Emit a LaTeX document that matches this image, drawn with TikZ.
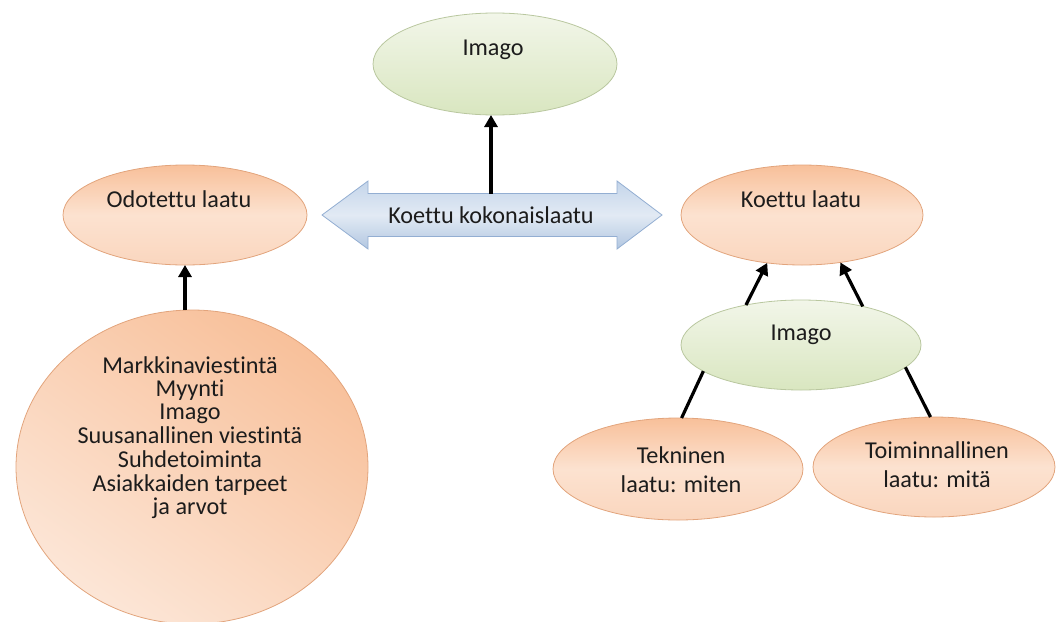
\documentclass[tikz,border=0pt]{standalone}
\usepackage{fontspec}
\setmainfont{Carlito}[Ligatures={NoCommon}]
\usetikzlibrary{arrows.meta,shapes.geometric}
\definecolor{peachtop}{HTML}{F8C09A}
\definecolor{peachmid}{HTML}{FCE2D0}
\definecolor{peachbot}{HTML}{FAD6BE}
\definecolor{peachlight}{HTML}{FCE6D7}
\definecolor{peachedge}{HTML}{E2A47C}
\definecolor{greentop}{HTML}{F2F6E9}
\definecolor{greenbot}{HTML}{D9E6C0}
\definecolor{greenedge}{HTML}{B9C79F}
\definecolor{bluetop}{HTML}{C4D5EA}
\definecolor{bluemid}{HTML}{E2EAF4}
\definecolor{bluebot}{HTML}{B2C7E1}
\definecolor{blueedge}{HTML}{93AED2}
\definecolor{textc}{HTML}{1C1C1C}
\begin{document}
\begin{tikzpicture}[x=1pt,y=-1pt,
  every node/.style={outer sep=0pt, inner sep=0pt},
  peach/.style={ellipse, draw=peachedge, line width=0.8pt, top color=peachtop, bottom color=peachbot, middle color=peachmid},
  greenell/.style={ellipse, draw=greenedge, line width=0.8pt, top color=greentop, bottom color=greenbot},
  lbl/.style={anchor=base, text=textc, font=\fontsize{24.2}{23.3}\selectfont},
  lbltwo/.style={anchor=base, text=textc, font=\fontsize{24.2}{29.5}\selectfont},
  arr/.style={line width=3.2pt, -{Triangle[length=12pt,width=13pt]}},
  conn/.style={line width=3.2pt}]
\useasboundingbox (0,0) rectangle (1056,621);

% shapes
\node[greenell, minimum width=244pt, minimum height=102pt] (topimg) at (495,64) {};
\node[peach, minimum width=244pt, minimum height=100pt] (odot) at (185,215) {};
\node[peach, minimum width=242pt, minimum height=100pt] (koet) at (802,215) {};
\node[greenell, minimum width=240pt, minimum height=90pt] (green) at (801,345) {};
\node[peach, minimum width=250pt, minimum height=102pt] (tek) at (678,469) {};
\node[peach, minimum width=242pt, minimum height=100pt] (toim) at (934,467) {};
\node[ellipse, draw=peachedge, line width=0.8pt, top color=peachtop, bottom color=peachlight, shading angle=-35,
      minimum width=352pt, minimum height=314pt] (circ) at (192,467) {};

% double arrow
\path[draw=blueedge, line width=0.8pt, top color=bluetop, bottom color=bluebot, middle color=bluemid]
  (322,215) -- (368,181) -- (368,193.5) -- (617,193.5) -- (617,181) -- (662,215)
  -- (617,249) -- (617,236.5) -- (368,236.5) -- (368,249) -- cycle;
\node[minimum width=249pt, minimum height=43pt] (kok) at (491,215) {};

% labels
\node[lbl] (topimgtxt) at (493,55) {Imago};
\node[lbl] (odottxt) at (179,207) {Odotettu laatu};
\node[lbl] (koettxt) at (801,207) {Koettu laatu};
\node[lbl] (greentxt) at (801,340) {Imago};
\node[lbl] (koktxt) at (491,223) {Koettu kokonaislaatu};
\node[lbltwo] (tektxt) at (681,463) {\begin{tabular}[t]{@{}c@{}}Tekninen\\laatu: miten\end{tabular}};
\node[lbltwo] (toimtxt) at (937,458) {\begin{tabular}[t]{@{}c@{}}Toiminnallinen\\laatu: mitä\end{tabular}};
\node[lbl] (circtxt) at (190,373) {\begin{tabular}[t]{@{}c@{}}Markkinaviestintä\\Myynti\\Imago\\Suusanallinen viestintä\\Suhdetoiminta\\Asiakkaiden tarpeet\\ja arvot\end{tabular}};

% connectors
\draw[arr] (circ.north -| odot.south) -- (odot.south);
\draw[arr] (kok.north) -- (kok.north |- topimg.south);
\draw[arr] (green.144.5) -- (koet.234.7);
\draw[arr] (green.32.6) -- (koet.309.4);
\draw[conn] (green.195) -- (tek.86);
\draw[conn] (green.-12) -- (toim.94);
\end{tikzpicture}
\end{document}
